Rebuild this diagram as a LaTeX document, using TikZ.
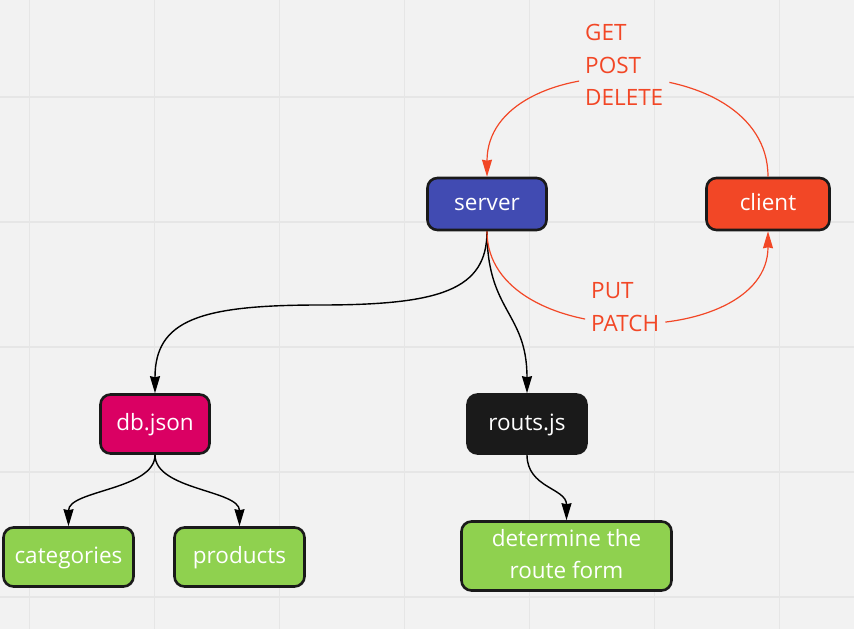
\documentclass[tikz,border=0pt]{standalone}
\usepackage{fontspec}
\setmainfont{Open Sans}
\usetikzlibrary{arrows.meta,calc}
\definecolor{bgc}{HTML}{F2F2F2}
\definecolor{gridc}{HTML}{E6E6E6}
\definecolor{mblue}{HTML}{414BB2}
\definecolor{mred}{HTML}{F24726}
\definecolor{mmag}{HTML}{DA0063}
\definecolor{mblack}{HTML}{1A1A1A}
\definecolor{mgreen}{HTML}{8FD14F}
\definecolor{mborder}{HTML}{1A1A1A}
\begin{document}
\begin{tikzpicture}[x=1pt,y=-1pt,
  box/.style={draw=mborder, line width=2.6pt, rounded corners=10pt, text=white,
    font=\fontsize{22.5}{32.3}\selectfont, inner sep=0pt, align=center},
  oneline/.style={text height=16pt, text depth=4pt},
  lbl/.style={text=mred, font=\fontsize{22.5}{32}\selectfont, inner sep=0pt, anchor=base west},
  conn/.style={line width=1.4pt, black, -{Stealth[length=17pt,width=10pt,inset=1pt]}},
  rconn/.style={line width=1.2pt, mred, -{Stealth[length=17pt,width=10pt,inset=1pt]}},
  gridline/.style={gridc, line width=1.6pt}]
\fill[bgc] (0,0) rectangle (854,629);
\useasboundingbox (0,0) rectangle (854,629);
\foreach \x in {29.5,154.5,279.5,404.5,529.5,654.5,779.5} \draw[gridline] (\x,0) -- (\x,629);
\foreach \y in {97,222,347,472,597} \draw[gridline] (0,\y) -- (854,\y);

\node[box, oneline, fill=mblue, minimum width=119pt, minimum height=52pt] (server) at (487,204) {server};
\node[box, oneline, fill=mred, minimum width=123pt, minimum height=52pt] (client) at (768,204) {client};
\node[box, oneline, fill=mmag, minimum width=109pt, minimum height=59pt] (db) at (155,424) {db.json};
\node[box, oneline, fill=mblack, minimum width=119pt, minimum height=59pt] (routs) at (527,424) {routs.js};
\node[box, oneline, fill=mgreen, minimum width=130pt, minimum height=59pt] (cat) at (68.5,557) {categories};
\node[box, oneline, fill=mgreen, minimum width=130pt, minimum height=59pt] (prod) at (239.5,557) {products};
\node[box, fill=mgreen, minimum width=210pt, minimum height=69pt] (det) at (566.5,556) {determine the\\route form\rule[-4pt]{0pt}{4pt}};

\node[lbl] (get) at (585,40) {GET};
\node[lbl] (post) at (585,73) {POST};
\node[lbl] (delete) at (585,105.5) {DELETE};
\node[lbl] (put) at (591,298) {PUT};
\node[lbl] (patch) at (591,331) {PATCH};

\draw[conn] (server.south) .. controls (487,290) and (440,305) .. (320,305)
  .. controls (200,305) and (155,320) .. (db.north);
\draw[conn] (server.south) .. controls (487,312) and (527,312) .. (routs.north);
\draw[conn] (db.south) .. controls (155,490) and (68.5,490) .. (cat.north);
\draw[conn] (db.south) .. controls (155,490) and (239.5,490) .. (prod.north);
\draw[conn] (routs.south) .. controls (527,488) and (566.5,488) .. (det.north);

\begin{scope}
\clip (0,0) -- (854,0) -- (854,629) -- (0,629) -- cycle
  ($(get.north -| delete.west)+(-6,-5)$) -- ($(delete.south west)+(-6,5)$)
  -- ($(delete.south east)+(6,5)$) -- ($(get.north -| delete.east)+(6,-5)$) -- cycle
  ($(put.north -| patch.west)+(-6,-5)$) -- ($(patch.south west)+(-6,5)$)
  -- ($(patch.south east)+(6,5)$) -- ($(put.north -| patch.east)+(6,-5)$) -- cycle;
\draw[rconn] (client.north) .. controls (768,47) and (487,47) .. (server.north);
\draw[rconn] (server.south) .. controls (487,352) and (768,352) .. (client.south);
\end{scope}
\end{tikzpicture}
\end{document}
